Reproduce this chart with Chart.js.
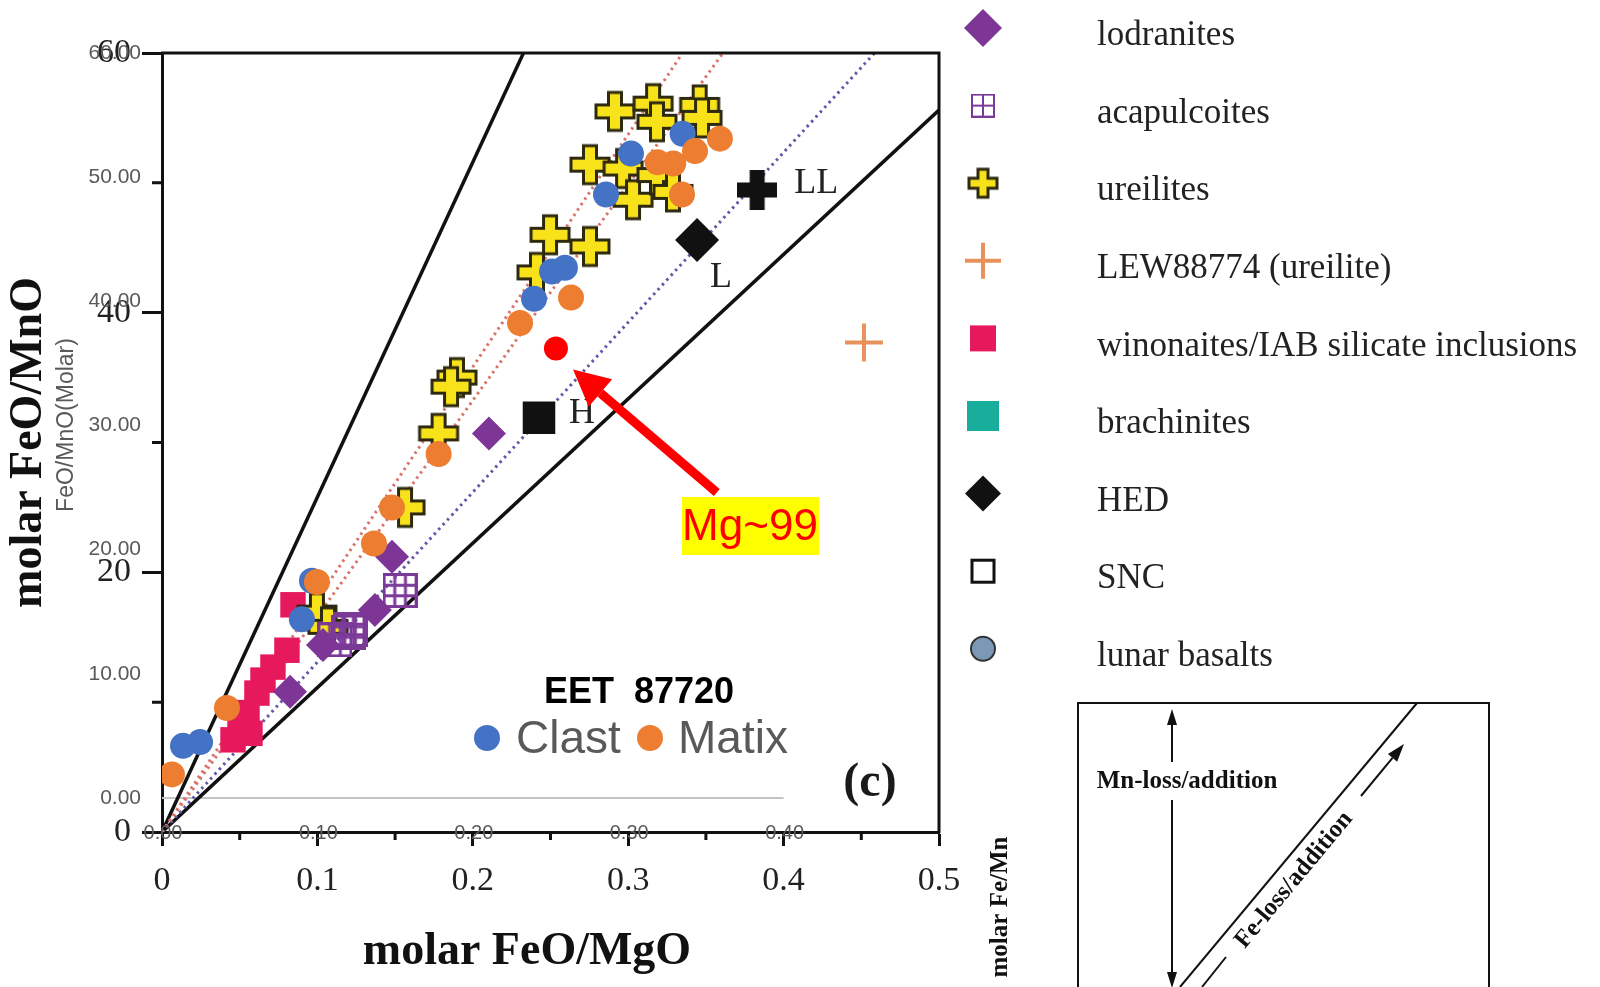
<!DOCTYPE html>
<html>
<head>
<meta charset="utf-8">
<title>FeO/MnO vs FeO/MgO</title>
<script src="https://cdn.jsdelivr.net/npm/chart.js@4.4.1/dist/chart.umd.min.js"></script>
<style>
  html, body { margin: 0; padding: 0; background: #fff; }
  #chart { display: block; }
</style>
</head>
<body>
<canvas id="chart" width="1600" height="987"></canvas>
<script>
// ---- values ----
// main diagram: x = molar FeO/MgO, y = molar FeO/MnO
const lodranites = [[0.2104, 30.7], [0.148, 21.2], [0.137, 17.1], [0.1036, 14.4], [0.0824, 10.8]];
const acapulcoites = [[0.1532, 18.6], [0.121, 15.6], [0.1197, 15.4], [0.1113, 14.8]];
const ureilites = [
    [0.2915, 55.5], [0.316, 56.1], [0.3185, 54.7], [0.346, 56.0], [0.3475, 55.0],
    [0.2754, 51.4], [0.2967, 51.1], [0.3031, 48.7], [0.3185, 50.6], [0.3288, 49.3],
    [0.2497, 46.0], [0.2754, 45.1], [0.2413, 43.1],
    [0.1898, 35.0], [0.186, 34.3], [0.178, 30.7], [0.1564, 25.0],
    [0.0997, 16.9], [0.1068, 15.8]
];
const lew88774 = [[0.4517, 37.7]];
const winonaites = [[0.0843, 17.5], [0.0804, 14.0], [0.0714, 12.7], [0.065, 11.7], [0.0611, 10.7],
    [0.0547, 9.2], [0.0502, 8.1], [0.0566, 7.6], [0.0457, 7.1]];
const chondriteH = [[0.2426, 31.9]];
const chondriteL = [[0.3443, 45.6]];
const chondriteLL = [[0.383, 49.45]];

// reference lines through the origin
const steepLine = [[0, 0], [0.2326, 60]];
const shallowLine = [[0, 0], [0.5, 55.6]];
const redDotA = [[0, 0], [0.335, 60]];
const redDotB = [[0, 0], [0.361, 60]];
const purpleDot = [[0, 0], [0.4585, 60]];

// EET 87720 overlay (own FeO/MnO(Molar) axis)
const clast = [[0.0135, 4.2], [0.0245, 4.5], [0.090, 14.4], [0.0965, 17.5], [0.2394, 40.2],
    [0.251, 42.4], [0.2593, 42.7], [0.2857, 48.6], [0.3018, 51.9], [0.335, 53.5]];
const matix = [[0.0064, 1.9], [0.0418, 7.25], [0.0997, 17.4], [0.1364, 20.5], [0.148, 23.4],
    [0.178, 27.7], [0.2304, 38.25], [0.2632, 40.3], [0.319, 51.2], [0.329, 51.1],
    [0.343, 52.1], [0.359, 53.1], [0.3346, 48.6]];
const mg99 = [[0.2535, 36.2]];
const overlayBase = [[0, 0], [0.4, 0]];

// ticks
const xTicks = [0, 0.1, 0.2, 0.3, 0.4, 0.5];
const xMinorTicks = [0.05, 0.15, 0.25, 0.35, 0.45];
const yTicks = [0, 20, 40, 60];
const yMinorTicks = [10, 30, 50];
const overlayXTicks = [0, 0.1, 0.2, 0.3, 0.4];
const overlayYTicks = [0, 10, 20, 30, 40, 50, 60];

const legendLabels = ['lodranites', 'acapulcoites', 'ureilites', 'LEW88774 (ureilite)',
    'winonaites/IAB silicate inclusions', 'brachinites', 'HED', 'SNC', 'lunar basalts'];

const pts = arr => arr.map(([x, y]) => ({x, y}));

// ---- custom marker images ----
function makeCross(size, arm, fill, stroke, lw) {
    const c = document.createElement('canvas');
    c.width = c.height = size + lw * 2;
    const g = c.getContext('2d');
    const m = c.width / 2, h = size / 2, a = arm / 2;
    g.beginPath();
    g.moveTo(m - a, m - h); g.lineTo(m + a, m - h); g.lineTo(m + a, m - a); g.lineTo(m + h, m - a);
    g.lineTo(m + h, m + a); g.lineTo(m + a, m + a); g.lineTo(m + a, m + h); g.lineTo(m - a, m + h);
    g.lineTo(m - a, m + a); g.lineTo(m - h, m + a); g.lineTo(m - h, m - a); g.lineTo(m - a, m - a);
    g.closePath();
    g.fillStyle = fill;
    g.fill();
    if (lw) {
        g.lineWidth = lw;
        g.strokeStyle = stroke;
        g.stroke();
    }
    return c;
}

function makeGrid(size, cells, color, lw) {
    const c = document.createElement('canvas');
    c.width = c.height = size + lw;
    const g = c.getContext('2d');
    const o = lw / 2;
    g.strokeStyle = color;
    g.lineWidth = lw;
    g.strokeRect(o, o, size, size);
    g.beginPath();
    for (let i = 1; i < cells; i++) {
        const p = o + size * i / cells;
        g.moveTo(p, o); g.lineTo(p, o + size);
        g.moveTo(o, p); g.lineTo(o + size, p);
    }
    g.stroke();
    return c;
}

const yellowCross = makeCross(38, 13, '#f8e21a', '#2e2a10', 3);
const blackCross = makeCross(40, 15, '#111', '#111', 0);
const purpleGrid = makeGrid(32, 3, '#7b3a98', 3);
const legendCross = makeCross(28, 10, '#f8e21a', '#2e2a10', 3);
const legendGrid = makeGrid(22, 2, '#7b3a98', 2);

// ---- datasets (first in list is drawn on top) ----
function markers(label, data, style, radius, color, yAxisID) {
    return {
        label: label,
        data: pts(data),
        yAxisID: yAxisID || 'y',
        pointStyle: style,
        pointRadius: radius,
        pointBackgroundColor: color,
        pointBorderColor: color,
        pointBorderWidth: 0,
        showLine: false
    };
}

function refLine(label, data, color, width, dash, yAxisID) {
    return {
        label: label,
        data: pts(data),
        yAxisID: yAxisID || 'y',
        showLine: true,
        borderColor: color,
        borderWidth: width,
        borderDash: dash || [],
        pointRadius: 0,
        fill: false
    };
}

const datasets = [
    markers('Mg~99', mg99, 'circle', 12, '#ff0000', 'y2'),
    markers('Matix', matix, 'circle', 13, '#ed7d31', 'y2'),
    markers('Clast', clast, 'circle', 13, '#4472c4', 'y2'),
    markers('H', chondriteH, 'rect', 23, '#111'),
    markers('L', chondriteL, 'rectRot', 22, '#111'),
    markers('LL', chondriteLL, blackCross, 20, '#111'),
    markers('lodranites', lodranites, 'rectRot', 17, '#7d3596'),
    markers('acapulcoites', acapulcoites, purpleGrid, 17, '#7b3a98'),
    markers('ureilites', ureilites, yellowCross, 20, '#f8e21a'),
    Object.assign(markers('LEW88774 (ureilite)', lew88774, 'cross', 19, '#e8915a'),
        {pointBorderWidth: 4}),
    markers('winonaites/IAB silicate inclusions', winonaites, 'rect', 18, '#e6195c'),
    refLine('', redDotA, '#d9736c', 3, [2.5, 4]),
    refLine('', redDotB, '#d9736c', 3, [2.5, 4]),
    refLine('', purpleDot, '#6356a6', 3, [2.5, 4]),
    refLine('', steepLine, '#111', 3.5),
    refLine('', shallowLine, '#111', 3.5),
    refLine('', overlayBase, '#c4c4c4', 2, [], 'y2')
];

// ---- extra drawing: frame, minor ticks, labels, legend, inset ----
function arrow(ctx, x1, y1, x2, y2, width, headLen, headHalf) {
    const dx = x2 - x1, dy = y2 - y1;
    const len = Math.hypot(dx, dy);
    const ux = dx / len, uy = dy / len;
    const bx = x2 - ux * headLen, by = y2 - uy * headLen;
    ctx.lineWidth = width;
    ctx.beginPath();
    ctx.moveTo(x1, y1);
    ctx.lineTo(bx, by);
    ctx.stroke();
    ctx.beginPath();
    ctx.moveTo(x2, y2);
    ctx.lineTo(bx - uy * headHalf, by + ux * headHalf);
    ctx.lineTo(bx + uy * headHalf, by - ux * headHalf);
    ctx.closePath();
    ctx.fill();
}

function legendMarker(ctx, i, x, y) {
    ctx.save();
    switch (i) {
        case 0: // purple diamond
            ctx.fillStyle = '#7d3596';
            ctx.beginPath();
            ctx.moveTo(x, y - 19); ctx.lineTo(x + 19, y); ctx.lineTo(x, y + 19); ctx.lineTo(x - 19, y);
            ctx.closePath(); ctx.fill();
            break;
        case 1:
            ctx.drawImage(legendGrid, x - legendGrid.width / 2, y - legendGrid.height / 2);
            break;
        case 2:
            ctx.drawImage(legendCross, x - legendCross.width / 2, y - legendCross.height / 2);
            break;
        case 3: // thin orange plus
            ctx.strokeStyle = '#e8915a';
            ctx.lineWidth = 4;
            ctx.beginPath();
            ctx.moveTo(x - 18, y); ctx.lineTo(x + 18, y);
            ctx.moveTo(x, y - 18); ctx.lineTo(x, y + 18);
            ctx.stroke();
            break;
        case 4:
            ctx.fillStyle = '#e6195c';
            ctx.fillRect(x - 13, y - 13, 26, 26);
            break;
        case 5:
            ctx.fillStyle = '#19ad9c';
            ctx.fillRect(x - 16, y - 15, 32, 30);
            break;
        case 6:
            ctx.fillStyle = '#111';
            ctx.beginPath();
            ctx.moveTo(x, y - 18); ctx.lineTo(x + 18, y); ctx.lineTo(x, y + 18); ctx.lineTo(x - 18, y);
            ctx.closePath(); ctx.fill();
            break;
        case 7:
            ctx.strokeStyle = '#111';
            ctx.lineWidth = 3;
            ctx.strokeRect(x - 11, y - 11, 22, 22);
            break;
        case 8:
            ctx.fillStyle = '#7b98b6';
            ctx.strokeStyle = '#333';
            ctx.lineWidth = 2;
            ctx.beginPath();
            ctx.arc(x, y, 12, 0, Math.PI * 2);
            ctx.fill(); ctx.stroke();
            break;
    }
    ctx.restore();
}

const annotate = {
    id: 'annotate',
    afterDraw(chart) {
        const ctx = chart.ctx;
        const area = chart.chartArea;
        const sx = chart.scales.x, sy = chart.scales.y, sy2 = chart.scales.y2;
        ctx.save();

        // top and right frame
        ctx.strokeStyle = '#111';
        ctx.lineWidth = 3;
        ctx.beginPath();
        ctx.moveTo(area.left - 1, area.top);
        ctx.lineTo(area.right, area.top);
        ctx.lineTo(area.right, area.bottom + 1);
        ctx.stroke();

        // minor ticks
        ctx.beginPath();
        xMinorTicks.forEach(v => {
            const px = sx.getPixelForValue(v);
            ctx.moveTo(px, area.bottom);
            ctx.lineTo(px, area.bottom + 8);
        });
        yMinorTicks.forEach(v => {
            const py = sy.getPixelForValue(v);
            ctx.moveTo(area.left, py);
            ctx.lineTo(area.left - 10, py);
        });
        ctx.stroke();

        // overlay (EET 87720) axis labels, pasted over the main axes
        ctx.fillStyle = '#595959';
        ctx.font = '21px "Liberation Sans"';
        ctx.textAlign = 'right';
        ctx.textBaseline = 'middle';
        overlayYTicks.forEach(v => {
            ctx.fillText(v.toFixed(2), area.left - 21, sy2.getPixelForValue(v));
        });
        ctx.font = '20px "Liberation Sans"';
        ctx.textAlign = 'center';
        overlayXTicks.forEach(v => {
            ctx.fillText(v.toFixed(2), sx.getPixelForValue(v) + 1, area.bottom + 1);
        });

        // x axis title
        ctx.fillStyle = '#111';
        ctx.font = 'bold 46px "Liberation Serif"';
        ctx.fillText('molar FeO/MgO', 527, 952);

        // overlay axis title
        ctx.save();
        ctx.translate(67, 425);
        ctx.rotate(-Math.PI / 2);
        ctx.fillStyle = '#595959';
        ctx.font = '23px "Liberation Sans"';
        ctx.fillText('FeO/MnO(Molar)', 0, 0);
        ctx.restore();

        // chondrite labels
        ctx.fillStyle = '#222';
        ctx.font = '36px "Liberation Serif"';
        ctx.textAlign = 'left';
        ctx.fillText('H', sx.getPixelForValue(chondriteH[0][0]) + 30, sy.getPixelForValue(chondriteH[0][1]) - 4);
        ctx.fillText('L', sx.getPixelForValue(chondriteL[0][0]) + 13, sy.getPixelForValue(chondriteL[0][1]) + 38);
        ctx.fillText('LL', sx.getPixelForValue(chondriteLL[0][0]) + 37, sy.getPixelForValue(chondriteLL[0][1]) - 6);

        // (c)
        ctx.fillStyle = '#1a1a1a';
        ctx.font = 'bold 48px "Liberation Serif"';
        ctx.textAlign = 'center';
        ctx.fillText('(c)', 870, 784);

        // EET 87720 legend
        ctx.fillStyle = '#000';
        ctx.font = 'bold 36px "Liberation Sans"';
        ctx.fillText('EET  87720', 639, 693);
        ctx.font = '46px "Liberation Sans"';
        ctx.textAlign = 'left';
        ctx.fillStyle = '#4472c4';
        ctx.beginPath(); ctx.arc(487, 738, 13, 0, Math.PI * 2); ctx.fill();
        ctx.fillStyle = '#595959';
        ctx.fillText('Clast', 516, 740);
        ctx.fillStyle = '#ed7d31';
        ctx.beginPath(); ctx.arc(650, 738, 13, 0, Math.PI * 2); ctx.fill();
        ctx.fillStyle = '#595959';
        ctx.fillText('Matix', 678, 740);

        // Mg~99 arrow and label
        const tipX = sx.getPixelForValue(0.2645), tipY = sy2.getPixelForValue(34.5);
        const tailX = sx.getPixelForValue(0.357), tailY = sy2.getPixelForValue(24.6);
        ctx.fillStyle = '#ff0000';
        ctx.strokeStyle = '#ff0000';
        arrow(ctx, tailX, tailY, tipX, tipY, 9, 36, 18);
        ctx.fillStyle = '#ffff00';
        ctx.fillRect(682, 497, 137, 58);
        ctx.fillStyle = '#ff0000';
        ctx.font = '44px "Liberation Sans"';
        ctx.textAlign = 'center';
        ctx.fillText('Mg~99', 750, 528);

        // legend on the right
        ctx.font = '35px "Liberation Serif"';
        ctx.textAlign = 'left';
        legendLabels.forEach((label, i) => {
            const rowY = 28 + i * 77.6;
            legendMarker(ctx, i, 983, rowY);
            ctx.fillStyle = '#222';
            ctx.fillText(label, 1097, rowY + 8);
        });

        // inset: Fe/Mn fractionation sketch
        ctx.strokeStyle = '#111';
        ctx.fillStyle = '#111';
        ctx.lineWidth = 2;
        ctx.strokeRect(1078, 703, 411, 320);
        ctx.beginPath();
        ctx.moveTo(1417, 703);
        ctx.lineTo(1180, 987);
        ctx.stroke();
        arrow(ctx, 1172, 762, 1172, 709, 2, 16, 5);
        arrow(ctx, 1172, 800, 1172, 988, 2, 16, 5);
        arrow(ctx, 1361, 796, 1404, 744, 2, 18, 6);
        ctx.beginPath();
        ctx.moveTo(1226, 957);
        ctx.lineTo(1202, 987);
        ctx.stroke();
        ctx.font = 'bold 25px "Liberation Serif"';
        ctx.textAlign = 'center';
        ctx.fillText('Mn-loss/addition', 1187, 782);
        ctx.save();
        ctx.translate(1294, 880);
        ctx.rotate(-50.2 * Math.PI / 180);
        ctx.fillText('Fe-loss/addition', 0, 0);
        ctx.restore();
        ctx.save();
        ctx.translate(1001, 907);
        ctx.rotate(-Math.PI / 2);
        ctx.fillText('molar Fe/Mn', 0, 0);
        ctx.restore();

        ctx.restore();
    }
};

const ctx = document.getElementById('chart').getContext('2d');
new Chart(ctx, {
    type: 'scatter',
    data: { datasets: datasets },
    options: {
        responsive: false,
        animation: false,
        devicePixelRatio: 1,
        layout: { padding: { top: 53, right: 661, bottom: 0, left: 0 } },
        plugins: {
            legend: { display: false },
            tooltip: { enabled: false }
        },
        scales: {
            x: {
                type: 'linear',
                position: 'bottom',
                min: 0,
                max: 0.5,
                afterBuildTicks: s => { s.ticks = xTicks.map(v => ({value: v})); },
                afterFit: s => { s.height = 155; },
                grid: { drawOnChartArea: false, tickLength: 14, tickWidth: 3, tickColor: '#111' },
                border: { color: '#111', width: 3 },
                ticks: {
                    autoSkip: false,
                    maxRotation: 0,
                    padding: 15,
                    color: '#222',
                    font: { family: 'Liberation Serif', size: 34 },
                    callback: v => String(v)
                }
            },
            y: {
                type: 'linear',
                position: 'left',
                min: 0,
                max: 60,
                afterBuildTicks: s => { s.ticks = yTicks.map(v => ({value: v})); },
                afterFit: s => { s.width = 162; },
                grid: { drawOnChartArea: false, tickLength: 20, tickWidth: 3, tickColor: '#111' },
                border: { color: '#111', width: 3 },
                ticks: {
                    padding: 11,
                    color: '#222',
                    font: { family: 'Liberation Serif', size: 34 }
                },
                title: {
                    display: true,
                    text: 'molar FeO/MnO',
                    color: '#111',
                    font: { family: 'Liberation Serif', size: 46, weight: 'bold' },
                    padding: { top: 2, bottom: 0 }
                }
            },
            y2: {
                type: 'linear',
                display: false,
                min: -2.74,
                max: 60
            }
        }
    },
    plugins: [annotate]
});
</script>
</body>
</html>
